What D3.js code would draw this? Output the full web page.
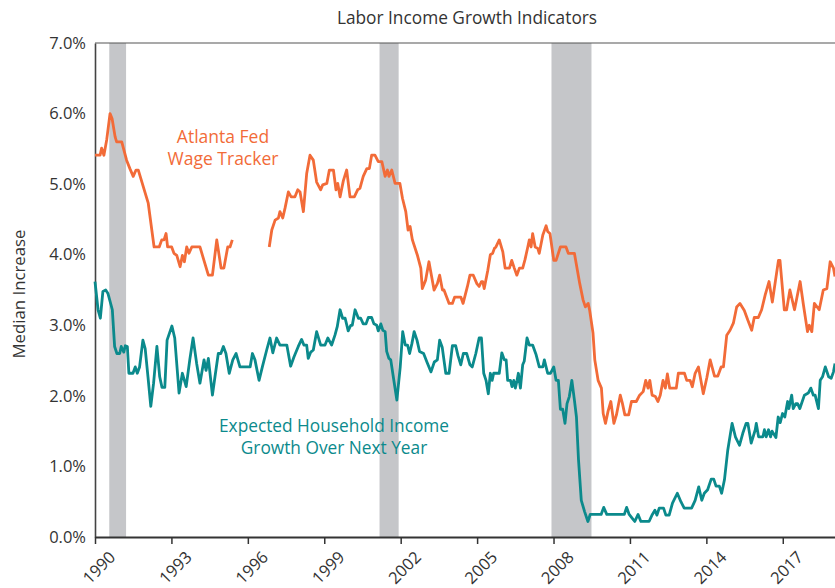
<!DOCTYPE html>
<html>
<head>
<meta charset="utf-8">
<script src="https://cdn.jsdelivr.net/npm/d3@7"></script>
<style>
  body { margin: 0; background: #fff; }
  svg text { font-family: "Open Sans", "DejaVu Sans", sans-serif; }
</style>
</head>
<body>
<div id="chart"></div>
<script>
// Recession periods (decimal years)
const recessions = [
  [1990.56, 1991.22],
  [2001.17, 2001.92],
  [2007.92, 2009.49]
];

// Atlanta Fed Wage Tracker, [year, median % increase]; null marks the data gap
const wageTracker = [
  [1990.00, 5.41], [1990.20, 5.41], [1990.26, 5.51], [1990.35, 5.41], [1990.46, 5.63],
  [1990.59, 6.00], [1990.67, 5.93], [1990.79, 5.67], [1990.85, 5.60], [1991.05, 5.60],
  [1991.24, 5.34], [1991.37, 5.22], [1991.50, 5.11], [1991.61, 5.20], [1991.70, 5.20],
  [1992.09, 4.73], [1992.23, 4.35], [1992.32, 4.11], [1992.52, 4.11], [1992.62, 4.21],
  [1992.71, 4.21], [1992.79, 4.30], [1992.85, 4.11], [1993.01, 4.11], [1993.10, 4.02],
  [1993.21, 3.99], [1993.34, 3.83], [1993.43, 3.99], [1993.51, 3.90], [1993.60, 4.11],
  [1993.69, 4.02], [1993.80, 4.11], [1994.12, 4.11], [1994.45, 3.71], [1994.61, 3.71],
  [1994.78, 4.21], [1994.95, 3.81], [1995.06, 3.81], [1995.21, 4.11], [1995.30, 4.11],
  [1995.39, 4.21],
  [1996.00, null],
  [1996.84, 4.11], [1996.94, 4.35], [1997.07, 4.49], [1997.20, 4.52], [1997.26, 4.61],
  [1997.37, 4.52], [1997.46, 4.66], [1997.59, 4.89], [1997.70, 4.82], [1997.85, 4.82],
  [1997.96, 4.92], [1998.05, 4.89], [1998.18, 4.61], [1998.31, 5.15], [1998.44, 5.41],
  [1998.57, 5.34], [1998.70, 5.03], [1998.86, 4.92], [1998.94, 4.99], [1999.10, 5.01],
  [1999.20, 5.20], [1999.36, 5.20], [1999.46, 4.92], [1999.53, 5.01], [1999.62, 4.82],
  [1999.75, 5.05], [1999.88, 5.20], [2000.01, 4.82], [2000.18, 4.82], [2000.31, 4.92],
  [2000.40, 4.94], [2000.53, 5.11], [2000.67, 5.22], [2000.77, 5.22], [2000.86, 5.41],
  [2000.99, 5.41], [2001.12, 5.32], [2001.26, 5.32], [2001.39, 5.11], [2001.48, 5.20],
  [2001.54, 5.11], [2001.65, 5.20], [2001.78, 5.01], [2001.97, 5.01], [2002.07, 4.80],
  [2002.20, 4.61], [2002.29, 4.35], [2002.37, 4.40], [2002.46, 4.21], [2002.65, 4.00],
  [2002.79, 3.81], [2002.85, 3.52], [2002.98, 3.64], [2003.11, 3.90], [2003.31, 3.50],
  [2003.44, 3.59], [2003.53, 3.71], [2003.64, 3.50], [2003.70, 3.50], [2003.90, 3.31],
  [2004.03, 3.31], [2004.12, 3.40], [2004.36, 3.40], [2004.45, 3.31], [2004.62, 3.55],
  [2004.72, 3.71], [2004.85, 3.71], [2004.99, 3.59], [2005.08, 3.55], [2005.17, 3.62],
  [2005.22, 3.62], [2005.28, 3.52], [2005.42, 3.78], [2005.52, 4.00], [2005.61, 4.02],
  [2005.68, 4.09], [2005.74, 4.11], [2005.87, 4.21], [2006.01, 4.04], [2006.10, 3.81],
  [2006.27, 3.81], [2006.36, 3.92], [2006.46, 3.81], [2006.56, 3.71], [2006.66, 3.81],
  [2006.79, 3.81], [2006.88, 3.93], [2006.99, 4.11], [2007.05, 4.21], [2007.12, 4.11],
  [2007.18, 4.30], [2007.28, 4.11], [2007.38, 4.09], [2007.44, 4.02], [2007.58, 4.28],
  [2007.71, 4.41], [2007.77, 4.33], [2007.86, 4.30], [2008.01, 3.92], [2008.10, 3.92],
  [2008.27, 4.11], [2008.49, 4.11], [2008.58, 4.02], [2008.82, 4.02], [2009.03, 3.59],
  [2009.16, 3.36], [2009.25, 3.26], [2009.36, 3.31], [2009.42, 3.21], [2009.55, 2.89],
  [2009.62, 2.51], [2009.75, 2.22], [2009.88, 2.11], [2009.95, 1.75], [2010.04, 1.61],
  [2010.14, 1.78], [2010.25, 1.92], [2010.37, 1.61], [2010.47, 1.73], [2010.62, 2.01],
  [2010.70, 1.90], [2010.80, 1.73], [2010.95, 1.73], [2011.06, 1.92], [2011.25, 1.92],
  [2011.38, 2.01], [2011.52, 2.06], [2011.62, 2.22], [2011.71, 2.11], [2011.78, 2.22],
  [2011.87, 2.01], [2012.00, 1.99], [2012.10, 1.92], [2012.19, 2.01], [2012.30, 2.22],
  [2012.39, 2.11], [2012.47, 2.31], [2012.56, 2.11], [2012.82, 2.11], [2012.90, 2.32],
  [2013.14, 2.32], [2013.23, 2.22], [2013.36, 2.22], [2013.45, 2.13], [2013.56, 2.32],
  [2013.69, 2.41], [2013.88, 2.03], [2014.02, 2.26], [2014.15, 2.51], [2014.32, 2.28],
  [2014.45, 2.28], [2014.58, 2.41], [2014.67, 2.41], [2014.80, 2.86], [2014.93, 2.93],
  [2015.06, 3.03], [2015.19, 3.26], [2015.32, 3.31], [2015.49, 3.21], [2015.63, 3.07],
  [2015.78, 2.93], [2015.88, 3.11], [2016.04, 3.11], [2016.17, 3.22], [2016.31, 3.43],
  [2016.46, 3.62], [2016.59, 3.33], [2016.83, 3.92], [2016.89, 3.92], [2017.06, 3.22],
  [2017.15, 3.22], [2017.28, 3.50], [2017.46, 3.22], [2017.68, 3.62], [2017.81, 3.29],
  [2017.97, 2.91], [2018.04, 3.00], [2018.14, 2.91], [2018.24, 3.31], [2018.43, 3.22],
  [2018.59, 3.50], [2018.73, 3.52], [2018.86, 3.90], [2018.99, 3.81], [2019.05, 3.69]
];

// Expected household income growth over next year, [year, median %]
const expectedIncome = [
  [1990.00, 3.62], [1990.12, 3.22], [1990.21, 3.10], [1990.31, 3.48], [1990.42, 3.50],
  [1990.51, 3.45], [1990.68, 3.22], [1990.77, 2.70], [1990.86, 2.60], [1990.97, 2.60],
  [1991.03, 2.70], [1991.13, 2.62], [1991.19, 2.71], [1991.27, 2.70], [1991.33, 2.32],
  [1991.49, 2.32], [1991.58, 2.41], [1991.66, 2.32], [1991.75, 2.41], [1991.88, 2.79],
  [1991.97, 2.67], [1992.08, 2.27], [1992.19, 1.85], [1992.30, 2.18], [1992.43, 2.70],
  [1992.54, 2.27], [1992.63, 2.12], [1992.74, 2.12], [1992.83, 2.79], [1993.02, 2.99],
  [1993.13, 2.82], [1993.30, 2.04], [1993.43, 2.32], [1993.58, 2.13], [1993.72, 2.51],
  [1993.85, 2.82], [1993.99, 2.46], [1994.12, 2.18], [1994.28, 2.51], [1994.36, 2.36],
  [1994.45, 2.53], [1994.61, 2.01], [1994.71, 2.27], [1994.84, 2.60], [1994.94, 2.60],
  [1995.04, 2.70], [1995.14, 2.60], [1995.27, 2.32], [1995.41, 2.51], [1995.54, 2.60],
  [1995.69, 2.41], [1996.09, 2.41], [1996.18, 2.60], [1996.28, 2.51], [1996.44, 2.22],
  [1996.57, 2.41], [1996.74, 2.65], [1996.87, 2.82], [1996.98, 2.61], [1997.13, 2.82],
  [1997.26, 2.72], [1997.53, 2.72], [1997.68, 2.42], [1997.81, 2.55], [1997.98, 2.70],
  [1998.11, 2.80], [1998.20, 2.72], [1998.31, 2.72], [1998.37, 2.53], [1998.47, 2.62],
  [1998.57, 2.65], [1998.70, 2.91], [1998.86, 2.72], [1999.03, 2.72], [1999.14, 2.82],
  [1999.29, 2.72], [1999.42, 2.86], [1999.51, 2.98], [1999.62, 3.22], [1999.72, 3.10],
  [1999.82, 3.10], [1999.94, 2.92], [2000.04, 3.00], [2000.10, 3.00], [2000.21, 3.22],
  [2000.34, 3.10], [2000.43, 3.10], [2000.53, 3.02], [2000.64, 3.02], [2000.73, 3.11],
  [2000.86, 3.11], [2000.95, 3.02], [2001.06, 3.00], [2001.12, 2.92], [2001.22, 3.02],
  [2001.30, 2.93], [2001.39, 2.91], [2001.45, 2.63], [2001.54, 2.53], [2001.61, 2.51],
  [2001.71, 2.27], [2001.85, 1.94], [2001.98, 2.40], [2002.08, 2.91], [2002.18, 2.72],
  [2002.27, 2.72], [2002.35, 2.60], [2002.44, 2.74], [2002.53, 2.91], [2002.64, 2.79],
  [2002.74, 2.63], [2002.90, 2.60], [2003.03, 2.48], [2003.19, 2.34], [2003.32, 2.48],
  [2003.44, 2.51], [2003.53, 2.79], [2003.63, 2.69], [2003.77, 2.32], [2003.90, 2.32],
  [2004.03, 2.71], [2004.16, 2.71], [2004.25, 2.57], [2004.36, 2.44], [2004.46, 2.60],
  [2004.59, 2.60], [2004.72, 2.44], [2004.81, 2.41], [2004.95, 2.60], [2005.08, 2.82],
  [2005.17, 2.82], [2005.26, 2.32], [2005.35, 2.22], [2005.44, 2.03], [2005.52, 2.32],
  [2005.59, 2.22], [2005.65, 2.32], [2005.78, 2.32], [2005.87, 2.32], [2005.97, 2.61],
  [2006.07, 2.51], [2006.14, 2.51], [2006.20, 2.22], [2006.31, 2.22], [2006.37, 2.13],
  [2006.44, 2.22], [2006.50, 2.11], [2006.57, 2.22], [2006.62, 2.32], [2006.70, 2.11],
  [2006.79, 2.44], [2006.85, 2.49], [2006.96, 2.82], [2007.05, 2.72], [2007.18, 2.72],
  [2007.31, 2.59], [2007.44, 2.41], [2007.58, 2.41], [2007.64, 2.51], [2007.77, 2.32],
  [2007.88, 2.32], [2008.01, 2.41], [2008.10, 2.22], [2008.19, 2.22], [2008.27, 1.81],
  [2008.36, 1.81], [2008.45, 1.61], [2008.53, 1.89], [2008.62, 1.99], [2008.72, 2.22],
  [2008.82, 1.94], [2008.90, 1.70], [2008.98, 1.10], [2009.09, 0.52], [2009.22, 0.36],
  [2009.35, 0.22], [2009.44, 0.32], [2009.87, 0.32], [2009.97, 0.42], [2010.09, 0.32],
  [2010.78, 0.32], [2010.87, 0.42], [2010.97, 0.32], [2011.10, 0.26], [2011.19, 0.22],
  [2011.32, 0.32], [2011.43, 0.22], [2011.75, 0.22], [2011.88, 0.32], [2011.98, 0.38],
  [2012.06, 0.31], [2012.15, 0.41], [2012.32, 0.41], [2012.41, 0.31], [2012.54, 0.31],
  [2012.67, 0.48], [2012.86, 0.62], [2013.00, 0.50], [2013.13, 0.41], [2013.42, 0.41],
  [2013.56, 0.52], [2013.70, 0.71], [2013.82, 0.52], [2013.92, 0.62], [2014.05, 0.67],
  [2014.19, 0.82], [2014.29, 0.82], [2014.38, 0.72], [2014.51, 0.72], [2014.60, 0.62],
  [2014.71, 0.81], [2014.84, 1.23], [2015.01, 1.61], [2015.14, 1.42], [2015.30, 1.30],
  [2015.43, 1.47], [2015.56, 1.61], [2015.63, 1.61], [2015.76, 1.33], [2015.92, 1.52],
  [2015.96, 1.61], [2016.05, 1.42], [2016.22, 1.42], [2016.28, 1.52], [2016.35, 1.42],
  [2016.44, 1.52], [2016.52, 1.42], [2016.58, 1.50], [2016.73, 1.41], [2016.82, 1.70],
  [2016.90, 1.62], [2016.99, 1.75], [2017.08, 1.70], [2017.19, 1.92], [2017.24, 1.82],
  [2017.35, 2.01], [2017.41, 1.82], [2017.51, 1.89], [2017.58, 1.89], [2017.67, 1.82],
  [2017.85, 2.01], [2018.00, 2.04], [2018.10, 2.11], [2018.20, 2.01], [2018.27, 2.01],
  [2018.40, 1.82], [2018.47, 2.22], [2018.56, 2.27], [2018.67, 2.41], [2018.80, 2.27],
  [2018.90, 2.25], [2018.99, 2.34], [2019.05, 2.46]
];

const xTicks = [1990, 1993, 1996, 1999, 2002, 2005, 2008, 2011, 2014, 2017];
const yTicks = [0, 1, 2, 3, 4, 5, 6, 7];

const ORANGE = '#f26b38';
const TEAL = '#0b8a8c';

const width = 835, height = 588;
const margin = {top: 43, right: 0, bottom: 51, left: 95};

const svg = d3.select('#chart')
  .append('svg')
  .attr('width', width)
  .attr('height', height);

const x = d3.scaleLinear()
  .domain([1990, 2019.05])
  .range([margin.left, width - margin.right]);

const y = d3.scaleLinear()
  .domain([0, 7])
  .range([height - margin.bottom, margin.top]);

// Title
svg.append('text')
  .attr('x', 467)
  .attr('y', 24)
  .attr('text-anchor', 'middle')
  .attr('fill', '#333')
  .style('font-size', '17.3px')
  .text('Labor Income Growth Indicators');

// Recession shading
svg.selectAll('.recession')
  .data(recessions)
  .enter()
  .append('rect')
  .attr('class', 'recession')
  .attr('x', d => x(d[0]))
  .attr('width', d => x(d[1]) - x(d[0]))
  .attr('y', y(7))
  .attr('height', y(0) - y(7))
  .attr('fill', '#c5c6c9');

// Top border
svg.append('line')
  .attr('x1', x(1990)).attr('x2', width)
  .attr('y1', y(7)).attr('y2', y(7))
  .attr('stroke', '#555')
  .attr('stroke-width', 1.2);

// Y axis
const yAxis = svg.append('g')
  .attr('transform', `translate(${margin.left},0)`)
  .call(d3.axisLeft(y).tickValues(yTicks).tickSize(0).tickPadding(9)
    .tickFormat(d => d.toFixed(1) + '%'));
yAxis.select('.domain').attr('stroke', '#444').attr('stroke-width', 1.6);
yAxis.selectAll('text')
  .attr('fill', '#333')
  .style('font-size', '16.5px')
  .style('font-family', '"Open Sans", sans-serif');

// X axis
const xAxis = svg.append('g')
  .attr('transform', `translate(0,${y(0)})`)
  .call(d3.axisBottom(x).tickValues(xTicks).tickSize(7).tickSizeOuter(0)
    .tickFormat(d3.format('d')));
xAxis.select('.domain').attr('stroke', '#333').attr('stroke-width', 2);
xAxis.selectAll('.tick line').attr('stroke', '#333').attr('stroke-width', 1.5);
xAxis.selectAll('text')
  .attr('fill', '#333')
  .style('font-size', '16.5px')
  .style('font-family', '"Open Sans", sans-serif')
  .attr('text-anchor', 'middle')
  .attr('dy', null)
  .attr('y', null)
  .attr('dominant-baseline', 'central')
  .attr('transform', 'translate(3,30) rotate(-45)');

// Y axis title
svg.append('text')
  .attr('transform', 'translate(25,294) rotate(-90)')
  .attr('text-anchor', 'middle')
  .attr('fill', '#333')
  .style('font-size', '16.8px')
  .text('Median Increase');

// Lines
const line = d3.line()
  .defined(d => d[1] !== null)
  .x(d => x(d[0]))
  .y(d => y(d[1]));

const plot = svg.append('g');

plot.append('path')
  .datum(expectedIncome)
  .attr('fill', 'none')
  .attr('stroke', TEAL)
  .attr('stroke-width', 2.8)
  .attr('stroke-linejoin', 'round')
  .attr('d', line);

plot.append('path')
  .datum(wageTracker)
  .attr('fill', 'none')
  .attr('stroke', ORANGE)
  .attr('stroke-width', 2.8)
  .attr('stroke-linejoin', 'round')
  .attr('d', line);

// Series labels
svg.append('text')
  .attr('x', 223).attr('y', 143)
  .attr('text-anchor', 'middle')
  .attr('fill', ORANGE)
  .style('font-size', '17.5px')
  .selectAll('tspan')
  .data(['Atlanta Fed', 'Wage Tracker'])
  .enter()
  .append('tspan')
  .attr('x', 223)
  .attr('dy', (d, i) => i === 0 ? 0 : 22)
  .text(d => d);

svg.append('text')
  .attr('x', 334).attr('y', 432)
  .attr('text-anchor', 'middle')
  .attr('fill', TEAL)
  .style('font-size', '17.3px')
  .selectAll('tspan')
  .data(['Expected Household Income', 'Growth Over Next Year'])
  .enter()
  .append('tspan')
  .attr('x', 334)
  .attr('dy', (d, i) => i === 0 ? 0 : 22)
  .text(d => d);
</script>
</body>
</html>
